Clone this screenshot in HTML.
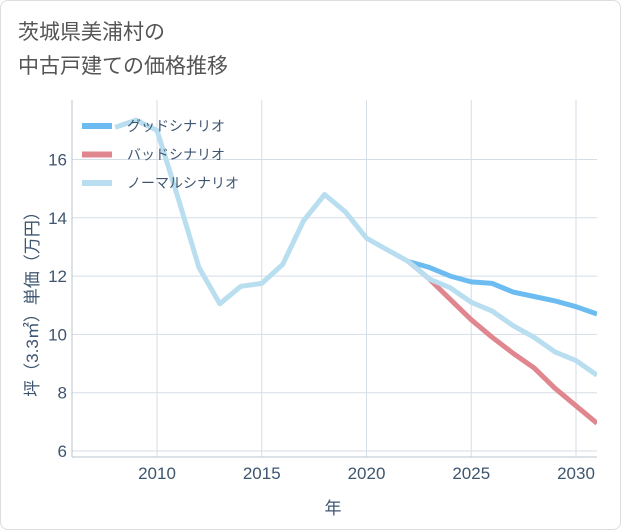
<!DOCTYPE html>
<html><head><meta charset="utf-8"><style>
body{margin:0;background:#fff;}
#wrap{position:relative;width:621px;height:530px;background:#fff;font-family:"Liberation Sans","Noto Sans CJK JP",sans-serif;}
#frame{position:absolute;left:0;top:0;width:619px;height:528px;border:1px solid #ddd;border-radius:8px;}
#title{position:absolute;left:18px;top:16px;font-size:21px;line-height:34px;color:#555;}
</style></head><body>
<div id="wrap">
<div id="frame"></div>
<div id="title">茨城県美浦村の<br>中古戸建ての価格推移</div>
<svg id="chart" width="621" height="530" style="position:absolute;left:0;top:0"></svg>
</div>
<script>
const normalYears=[2008,2009,2010,2011,2012,2013,2014,2015,2016,2017,2018,2019,2020,2021,2022,2023,2024,2025,2026,2027,2028,2029,2030,2031];
const normalVals=[17.1,17.35,17.0,14.7,12.3,11.05,11.65,11.75,12.4,13.9,14.8,14.2,13.3,12.9,12.5,11.9,11.6,11.1,10.8,10.3,9.9,9.4,9.1,8.6];
const goodYears=[2022,2023,2024,2025,2026,2027,2028,2029,2030,2031];
const goodVals=[12.5,12.3,12.0,11.8,11.75,11.45,11.3,11.15,10.95,10.7];
const badYears=[2022,2023,2024,2025,2026,2027,2028,2029,2030,2031];
const badVals=[12.5,11.9,11.2,10.5,9.9,9.35,8.85,8.15,7.55,6.95];
const xTicks=[2010,2015,2020,2025,2030];
const yTicks=[6,8,10,12,14,16];
const X0=72,X1=597,Y0=100,Y1=457;
const TXT='#3e5570';
const xs=v=>157+(v-2010)*20.95;
const ys=v=>451-(v-6)*29.15;
const svg=document.getElementById('chart');
const NS='http://www.w3.org/2000/svg';
function mk(t,a,p){const e=document.createElementNS(NS,t);for(const k in a)e.setAttribute(k,a[k]);(p||svg).appendChild(e);return e;}
const clip=mk('clipPath',{id:'pc'});mk('rect',{x:X0,y:Y0,width:X1-X0,height:Y1-Y0},clip);
xTicks.forEach(t=>{const l=mk('line',{x1:xs(t),x2:xs(t),y1:Y0,y2:Y1,stroke:'#d5dde6','stroke-width':1});

const tx=mk('text',{x:xs(t),y:479,'text-anchor':'middle','font-size':17,fill:TXT});tx.textContent=t;
});
yTicks.forEach(t=>{const l=mk('line',{x1:X0,x2:X1,y1:ys(t),y2:ys(t),stroke:'#d5dde6','stroke-width':1});

const tx=mk('text',{x:X0-5,y:ys(t)+6,'text-anchor':'end','font-size':17,fill:TXT});tx.textContent=t;
});
const ax=mk('line',{x1:X0,x2:X0,y1:Y0,y2:Y1,stroke:'#b8c4d0'});

const bx=mk('line',{x1:X0,x2:X1,y1:Y1,y2:Y1,stroke:'#b8c4d0'});

function series(ys_,vs,color,name){const d=ys_.map((y,i)=>(i?'L':'M')+xs(y).toFixed(1)+','+ys(vs[i]).toFixed(1)).join('');
const p=mk('path',{d:d,fill:'none',stroke:color,'stroke-width':5,'stroke-linejoin':'round','clip-path':'url(#pc)'});
}
series(goodYears,goodVals,'#6cbcf2','good-scenario-line');
series(badYears,badVals,'#e0868f','bad-scenario-line');
series(normalYears,normalVals,'#b9def0','normal-scenario-line');
const leg=[['グッドシナリオ','#6cbcf2'],['バッドシナリオ','#e0868f'],['ノーマルシナリオ','#b9def0']];
leg.forEach((l,i)=>{const y=126+i*28.5;
const r=mk('rect',{x:82,y:y-3,width:30,height:6,fill:l[1]});
const t=mk('text',{x:127,y:y+5,'font-size':14,fill:TXT});t.textContent=l[0];
});
const xt=mk('text',{x:333,y:514,'text-anchor':'middle','font-size':17,fill:TXT});xt.textContent='年';

const yt=mk('text',{x:0,y:0,'text-anchor':'middle','font-size':17,fill:TXT,transform:'translate(38,300) rotate(-90)'});yt.textContent='坪（3.3㎡）単価（万円）';

</script>
</body></html>
